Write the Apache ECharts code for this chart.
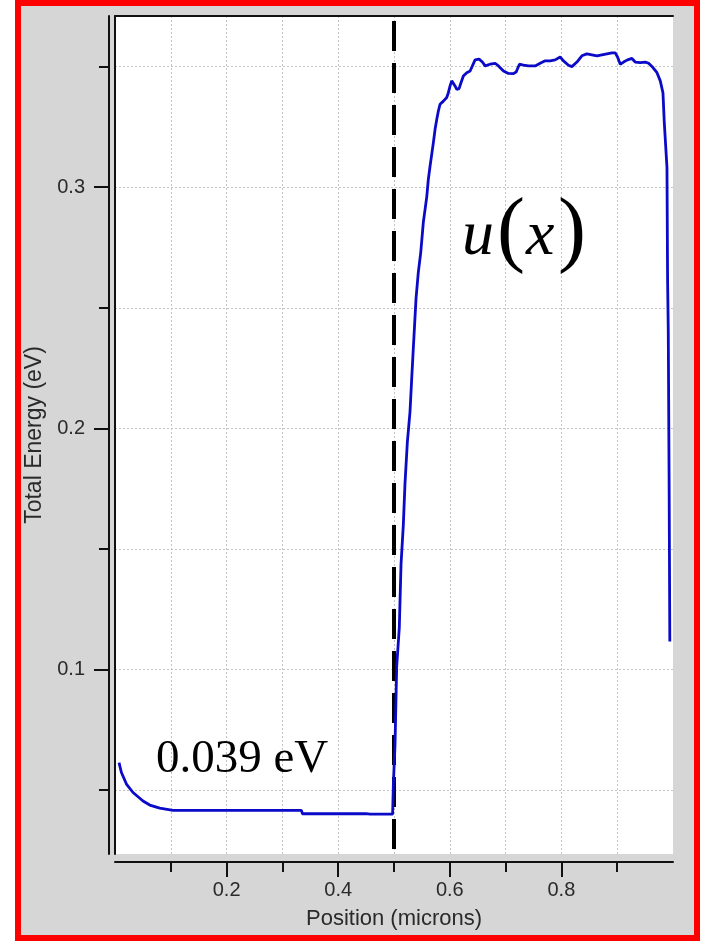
<!DOCTYPE html>
<html>
<head>
<meta charset="utf-8">
<script src="https://cdn.jsdelivr.net/npm/echarts@6/dist/echarts.min.js"></script>
<style>
  html, body { margin: 0; padding: 0; background: #ffffff; }
  #chart { width: 701px; height: 941px; }
</style>
</head>
<body>
<div id="chart"></div>
<script>
// ---- data ----
const positions = [
  0.0072, 0.0115, 0.0205, 0.0323, 0.0502, 0.0623, 0.0802, 0.104, 0.334, 0.336,
  0.45, 0.457, 0.4975, 0.4990, 0.5018, 0.5048, 0.5095, 0.5126, 0.5167, 0.5197,
  0.5239, 0.5287, 0.5317, 0.5346, 0.5395, 0.5436, 0.5479, 0.5526, 0.5587, 0.5615,
  0.5646, 0.5676, 0.5705, 0.5736, 0.5766, 0.5795, 0.5825, 0.5885, 0.5945, 0.5974,
  0.6005, 0.6035, 0.6064, 0.6094, 0.6125, 0.6166, 0.6202, 0.6243, 0.6304, 0.6364,
  0.6405, 0.6453, 0.6525, 0.6584, 0.6633, 0.6722, 0.6812, 0.6872, 0.6962, 0.7051,
  0.7140, 0.7189, 0.7248, 0.7320, 0.7409, 0.7530, 0.7619, 0.7709, 0.7799, 0.7888,
  0.7978, 0.8037, 0.8127, 0.8188, 0.8278, 0.8367, 0.8457, 0.8547, 0.8637, 0.8726,
  0.8816, 0.8906, 0.8965, 0.9006, 0.9055, 0.9114, 0.9185, 0.9264, 0.9323, 0.9413,
  0.9503, 0.9563, 0.9641, 0.9713, 0.9772, 0.9820, 0.9844, 0.9862, 0.9892, 0.9903,
  0.9915, 0.9930, 0.9943
];
const energies = [
  0.0614, 0.0573, 0.0525, 0.0490, 0.0455, 0.0438, 0.0425, 0.0416, 0.0416, 0.0402,
  0.0402, 0.0400, 0.0400, 0.0533, 0.0686, 0.1012, 0.1174, 0.1436, 0.1599, 0.1771,
  0.1942, 0.2069, 0.2205, 0.2331, 0.2539, 0.2648, 0.2729, 0.2855, 0.2960, 0.3032,
  0.3087, 0.3136, 0.3184, 0.3240, 0.3281, 0.3316, 0.3344, 0.3357, 0.3372, 0.3392,
  0.3420, 0.3441, 0.3445, 0.3420, 0.3406, 0.3409, 0.3434, 0.3461, 0.3475, 0.3482,
  0.3503, 0.3528, 0.3531, 0.3519, 0.3503, 0.3510, 0.3514, 0.3503, 0.3482, 0.3472,
  0.3471, 0.3478, 0.3510, 0.3506, 0.3503, 0.3503, 0.3514, 0.3524, 0.3524, 0.3528,
  0.3540, 0.3524, 0.3506, 0.3500, 0.3519, 0.3545, 0.3553, 0.3549, 0.3545, 0.3549,
  0.3553, 0.3557, 0.3557, 0.3540, 0.3510, 0.3519, 0.3528, 0.3534, 0.3519, 0.3517,
  0.3519, 0.3514, 0.3496, 0.3475, 0.3441, 0.3392, 0.3268, 0.3198, 0.3081, 0.2616,
  0.2409, 0.1800, 0.1116
];
const xMajorTicks = [0.2, 0.4, 0.6, 0.8];
const xMinorTicks = [0.1, 0.2, 0.3, 0.4, 0.5, 0.6, 0.7, 0.8, 0.9];
const yMajorTicks = [0.1, 0.2, 0.3];
const yMinorTicks = [0.05, 0.1, 0.15, 0.2, 0.25, 0.3, 0.35];
const boundaryX = 0.5;
const xRange = [0, 1];
const yRange = [0.0235, 0.371];
const xTitle = 'Position (microns)';
const yTitle = 'Total Energy (eV)';
const levelText = '0.039 eV';

const seriesData = positions.map((p, i) => [p, energies[i]]);

const sans = "'Liberation Sans', Arial, sans-serif";
const serif = "'Liberation Serif', 'Times New Roman', serif";
const ink = '#111';
const labelColor = '#2a2a2a';
const gridStyle = { color: '#c4c4c4', width: 1, type: [2, 2] };

const chart = echarts.init(document.getElementById('chart'), null, { renderer: 'canvas' });

chart.setOption({
  backgroundColor: '#ffffff',
  animation: false,
  graphic: [
    {
      type: 'rect', z: -10, silent: true,
      shape: { x: 18, y: 3, width: 679, height: 935 },
      style: { fill: '#d6d6d6', stroke: '#ff0000', lineWidth: 6 }
    },
    {
      type: 'text', z: 50, silent: true,
      style: { x: 156, y: 760, text: levelText, font: '47px ' + serif, fill: '#000',
               align: 'left', verticalAlign: 'middle', textAlign: 'left', textVerticalAlign: 'middle' }
    },
    {
      type: 'text', z: 50, silent: true,
      style: { x: 462, y: 237, text: 'u', font: 'italic 64px ' + serif, fill: '#000',
               align: 'left', verticalAlign: 'middle', textAlign: 'left', textVerticalAlign: 'middle' }
    },
    {
      type: 'text', z: 50, silent: true,
      style: { x: 497, y: 234, text: '(', font: '84px ' + serif, fill: '#000',
               align: 'left', verticalAlign: 'middle', textAlign: 'left', textVerticalAlign: 'middle' }
    },
    {
      type: 'text', z: 50, silent: true,
      style: { x: 526, y: 237, text: 'x', font: 'italic 64px ' + serif, fill: '#000',
               align: 'left', verticalAlign: 'middle', textAlign: 'left', textVerticalAlign: 'middle' }
    },
    {
      type: 'text', z: 50, silent: true,
      style: { x: 558, y: 234, text: ')', font: '84px ' + serif, fill: '#000',
               align: 'left', verticalAlign: 'middle', textAlign: 'left', textVerticalAlign: 'middle' }
    }
  ],
  grid: {
    left: 115, right: 28, top: 16, bottom: 87,
    show: true, backgroundColor: '#ffffff', borderWidth: 0, containLabel: false
  },
  xAxis: [
    {
      type: 'value', min: xRange[0], max: xRange[1], position: 'bottom', offset: 8,
      axisLine: { show: true, onZero: false, lineStyle: { color: ink, width: 2 } },
      axisTick: { show: true, customValues: xMajorTicks, length: 15, lineStyle: { color: ink, width: 2 } },
      axisLabel: { show: true, customValues: xMajorTicks, margin: 18, fontSize: 20, fontFamily: sans,
                   color: labelColor, formatter: v => v.toFixed(1) },
      splitLine: { show: false },
      name: xTitle, nameLocation: 'middle', nameGap: 46,
      nameTextStyle: { fontSize: 22, fontFamily: sans, color: labelColor }
    },
    {
      type: 'value', min: xRange[0], max: xRange[1], position: 'bottom', offset: 8,
      axisLine: { show: false, onZero: false },
      axisTick: { show: true, customValues: xMinorTicks, length: 10, lineStyle: { color: ink, width: 2 } },
      axisLabel: { show: false },
      splitLine: { show: true, lineStyle: gridStyle }
    },
    {
      type: 'value', min: xRange[0], max: xRange[1], position: 'top', offset: 0,
      axisLine: { show: true, onZero: false, lineStyle: { color: ink, width: 2 } },
      axisTick: { show: false }, axisLabel: { show: false }, splitLine: { show: false }
    }
  ],
  yAxis: [
    {
      type: 'value', min: yRange[0], max: yRange[1], position: 'left', offset: 6,
      axisLine: { show: true, onZero: false, lineStyle: { color: ink, width: 2 } },
      axisTick: { show: true, customValues: yMajorTicks, length: 15, lineStyle: { color: ink, width: 2 } },
      axisLabel: { show: true, customValues: yMajorTicks, margin: 24, fontSize: 20, fontFamily: sans,
                   color: labelColor, formatter: v => v.toFixed(1) },
      splitLine: { show: false },
      name: yTitle, nameLocation: 'middle', nameGap: 58,
      nameTextStyle: { fontSize: 23, fontFamily: sans, color: labelColor }
    },
    {
      type: 'value', min: yRange[0], max: yRange[1], position: 'left', offset: 6,
      axisLine: { show: false, onZero: false },
      axisTick: { show: true, customValues: yMinorTicks, length: 10, lineStyle: { color: ink, width: 2 } },
      axisLabel: { show: false },
      splitLine: { show: true, lineStyle: gridStyle }
    },
    {
      type: 'value', min: yRange[0], max: yRange[1], position: 'left', offset: 0,
      axisLine: { show: true, onZero: false, lineStyle: { color: ink, width: 2 } },
      axisTick: { show: false }, axisLabel: { show: false }, splitLine: { show: false }
    }
  ],
  series: [
    {
      type: 'line', xAxisIndex: 0, yAxisIndex: 0,
      data: seriesData, showSymbol: false, symbol: 'none', smooth: false,
      lineStyle: { color: '#0a0ac8', width: 2.8 },
      z: 5,
      markLine: {
        silent: true, symbol: 'none', animation: false,
        label: { show: false },
        lineStyle: { color: '#000', width: 4, type: [30, 12], dashOffset: 37 },
        data: [[{ coord: [boundaryX, yRange[1]] }, { coord: [boundaryX, yRange[0]] }]]
      }
    }
  ]
});
</script>
</body>
</html>
